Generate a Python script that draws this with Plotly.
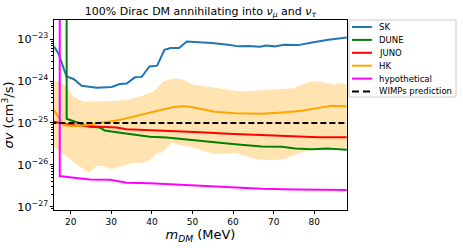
import plotly.graph_objects as go

# ---- data ----
sk_m = [15.9, 16.95, 19.0, 20.8, 22.7, 26.4, 30.1, 32.1, 33.8, 35.8, 37.5, 39.4, 41.3, 43.1, 44.6,
        46.7, 48.6, 51.8, 54.7, 58.8, 61.3, 63.7, 66.6, 68.2, 70.3, 72.4, 76.1, 79.4, 83.5, 88.0]
sk_sv = [6.68e-24, 4.68e-24, 1.29e-24, 1.11e-24, 7.76e-25, 6.92e-25, 7.24e-25, 8.51e-25, 8.71e-25,
         1.23e-24, 1.26e-24, 2.24e-24, 2.34e-24, 5.62e-24, 6.17e-24, 6.17e-24, 8.81e-24, 8.51e-24,
         8.13e-24, 7.41e-24, 6.76e-24, 6.92e-24, 6.61e-24, 7.08e-24, 6.76e-24, 7.41e-24, 7.24e-24,
         8.32e-24, 9.77e-24, 1.10e-23]

dune_m = [19.0, 19.02, 21.1, 23.1, 24.75, 27.2, 28.4, 31.3, 35.4, 39.5, 43.6, 47.7, 51.9, 55.5,
          60.5, 67.0, 72.0, 75.3, 79.4, 83.5, 88.0]
dune_sv = [1e-21, 1.26e-25, 1.07e-25, 9.33e-26, 8.13e-26, 7.76e-26, 6.61e-26, 6.03e-26, 5.37e-26,
           4.68e-26, 4.47e-26, 4.07e-26, 3.72e-26, 3.39e-26, 3.09e-26, 2.75e-26, 2.69e-26, 2.45e-26,
           2.34e-26, 2.45e-26, 2.29e-26]

juno_m = [15.9, 19.8, 23.1, 27.2, 31.3, 33.8, 39.5, 47.7, 51.8, 58.8, 67.0, 75.3, 81.0, 88.0]
juno_sv = [1.07e-25, 8.91e-26, 8.51e-26, 8.13e-26, 7.76e-26, 7.08e-26, 6.76e-26, 6.17e-26, 6.03e-26,
           5.50e-26, 5.13e-26, 4.79e-26, 4.57e-26, 4.57e-26]

hk_m = [15.9, 18.2, 20.6, 23.1, 25.6, 28.9, 31.3, 33.8, 36.3, 39.5, 42.8, 45.3, 47.7, 49.4, 51.8,
        55.5, 60.5, 67.0, 72.0, 76.9, 81.0, 84.3, 88.0]
hk_sv = [2.04e-25, 8.91e-26, 8.32e-26, 8.71e-26, 9.55e-26, 1.05e-25, 1.15e-25, 1.29e-25, 1.48e-25,
         1.70e-25, 2.04e-25, 2.40e-25, 2.51e-25, 2.45e-25, 2.19e-25, 1.86e-25, 1.70e-25, 1.66e-25,
         1.78e-25, 1.95e-25, 2.29e-25, 2.57e-25, 2.51e-25]

hk_up_m = [15.9, 17.4, 19.0, 20.7, 23.1, 27.2, 31.3, 33.8, 37.1, 40.4, 42.8, 45.3, 47.7, 50.2, 53.5,
           58.4, 61.7, 68.3, 74.8, 78.9, 81.4, 84.7, 86.3, 88.0]
hk_up_sv = [9.55e-25, 9.77e-25, 7.41e-25, 4.27e-25, 3.24e-25, 3.24e-25, 3.39e-25, 3.55e-25, 4.27e-25,
            5.62e-25, 9.77e-25, 1.17e-24, 1.07e-24, 8.13e-25, 7.41e-25, 6.17e-25, 5.62e-25, 6.17e-25,
            6.76e-25, 9.77e-25, 9.77e-25, 8.13e-25, 8.91e-25, 8.13e-25]

hk_lo_m = [15.9, 19.0, 22.3, 24.6, 26.4, 28.0, 30.1, 32.1, 35.4, 37.9, 39.5, 41.2, 42.8, 44.9, 46.9,
           49.4, 51.8, 55.5, 60.5, 63.3, 65.4, 70.3, 73.1, 76.4, 80.2, 84.7, 88.0]
hk_lo_sv = [2.69e-26, 1.55e-26, 8.91e-27, 6.46e-27, 9.33e-27, 9.33e-27, 7.94e-27, 8.91e-27, 1.10e-26,
            1.12e-26, 1.29e-26, 1.86e-26, 2.04e-26, 3.39e-26, 2.95e-26, 2.69e-26, 2.24e-26, 1.78e-26,
            1.91e-26, 1.62e-26, 1.35e-26, 1.29e-26, 1.41e-26, 1.91e-26, 2.34e-26, 2.75e-26, 2.40e-26]

hyp_m = [17.3, 17.32, 19.8, 24.75, 29.7, 33.8, 39.5, 47.7, 51.8, 58.8, 67.0, 75.3, 81.8, 88.0]
hyp_sv = [1e-21, 5.37e-27, 5.01e-27, 4.47e-27, 4.37e-27, 3.72e-27, 3.63e-27, 3.31e-27, 3.09e-27,
          2.88e-27, 2.69e-27, 2.57e-27, 2.51e-27, 2.51e-27]

wimp_m = [15.0, 90.0]
wimp_sv = [1e-25, 1e-25]

x_ticks = [20, 30, 40, 50, 60, 70, 80]

series_names = ["SK", "DUNE", "JUNO", "HK", "hypothetical", "WIMPs prediction"]
series_colors = ["#1f77b4", "green", "red", "orange", "magenta", "black"]
series_dash = ["solid", "solid", "solid", "solid", "solid", "6px,3px"]

FONT = "DejaVu Sans"
W, H = 463, 248
L, R, T, B = 54, 347, 20, 210  # plot area in pixels


def px(xp):
    return (xp - L) / (R - L)


def py(yp):
    return (B - yp) / (B - T)


fig = go.Figure()

# HK uncertainty band
fig.add_trace(go.Scatter(
    x=hk_up_m + hk_lo_m[::-1], y=hk_up_sv + hk_lo_sv[::-1],
    fill="toself", fillcolor="rgba(255,165,0,0.3)", line=dict(width=0),
    mode="lines", showlegend=False, hoverinfo="skip"))

series_x = [sk_m, dune_m, juno_m, hk_m, hyp_m, wimp_m]
series_y = [sk_sv, dune_sv, juno_sv, hk_sv, hyp_sv, wimp_sv]
for xs, ys, nm, col, ds in zip(series_x, series_y, series_names, series_colors, series_dash):
    fig.add_trace(go.Scatter(x=xs, y=ys, mode="lines", name=nm, showlegend=False,
                             line=dict(color=col, width=2, dash=ds)))

# ---- custom compact legend (matplotlib-like) ----
shapes = [dict(type="rect", xref="paper", yref="paper",
               x0=px(349), x1=px(456), y0=py(97), y1=py(20),
               line=dict(color="#cccccc", width=1), fillcolor="white", layer="above")]
annotations = []
row_y = [27, 39.9, 52.8, 65.7, 78.6, 91.5]
for yy, nm, col, ds in zip(row_y, series_names, series_colors, series_dash):
    shapes.append(dict(type="line", xref="paper", yref="paper",
                       x0=px(352), x1=px(372), y0=py(yy), y1=py(yy),
                       line=dict(color=col, width=2, dash=("7px,4px" if ds != "solid" else "solid")),
                       layer="above"))
    annotations.append(dict(xref="paper", yref="paper", x=px(377), y=py(yy),
                            xanchor="left", yanchor="middle", showarrow=False,
                            text=nm, font=dict(family=FONT, size=8.5, color="black")))

fig.update_layout(
    width=W, height=H,
    margin=dict(l=L, r=W - R, t=T, b=H - B, autoexpand=False),
    paper_bgcolor="white", plot_bgcolor="white",
    font=dict(family=FONT, size=9, color="black"),
    title=dict(text="100% Dirac DM annihilating into <i>ν</i><sub><i>μ</i></sub> and <i>ν</i><sub><i>τ</i></sub>",
               x=(L + R) / 2 / W, xanchor="center", y=1 - 11 / H, yanchor="middle",
               font=dict(family=FONT, size=11)),
    showlegend=False,
    shapes=shapes,
    annotations=annotations,
    hovermode=False,
)

fig.update_xaxes(
    range=[15.9, 88.05], tickvals=x_ticks, ticktext=[str(v) for v in x_ticks],
    showgrid=False, zeroline=False, automargin=False,
    showline=True, linecolor="black", linewidth=1, mirror=True,
    ticks="outside", ticklen=3, tickcolor="black",
    tickfont=dict(family=FONT, size=9),
    title=dict(text="<i>m</i><sub><i>DM</i></sub> (MeV)", font=dict(family=FONT, size=13), standoff=1),
)

fig.update_yaxes(
    type="log", range=[-27.08, -22.54], dtick=1, exponentformat="power",
    showgrid=False, zeroline=False, automargin=False,
    showline=True, linecolor="black", linewidth=1, mirror=True,
    ticks="outside", ticklen=3, tickcolor="black",
    minor=dict(ticks="outside", ticklen=2, tickcolor="black", showgrid=False),
    tickfont=dict(family=FONT, size=9),
    title=dict(text="<i>σv</i> (cm<sup>3</sup>/s)", font=dict(family=FONT, size=13), standoff=2),
)

fig.write_html("out.html",
               config={"displayModeBar": False, "staticPlot": True},
               post_script="document.body.style.margin='0';document.body.style.overflow='hidden';")
